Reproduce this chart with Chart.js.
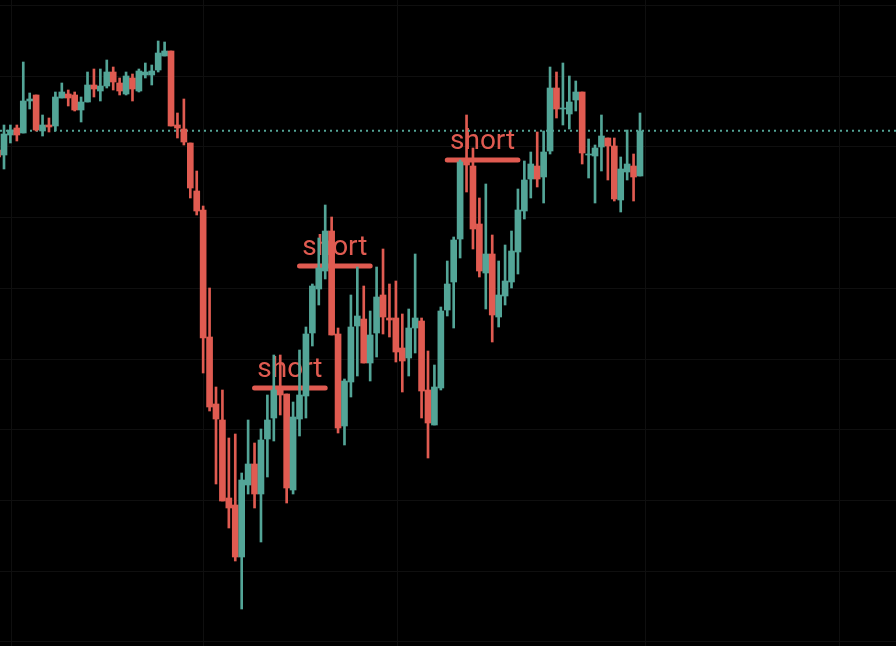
<!DOCTYPE html>
<html><head><meta charset="utf-8">
<style>html,body{margin:0;padding:0;background:#000;overflow:hidden}canvas{display:block}</style>
<script src="https://cdn.jsdelivr.net/npm/chart.js@4.4.1/dist/chart.umd.min.js"></script>
</head><body>
<canvas id="c" width="896" height="646"></canvas>
<script>
// ---- data (bar index -1 is the partially visible first candle) ----
const opens = [550,
 545,565,572,567,599,605,569,575,574,602, 606,605,590,598,615,609,614,628,617,606,
 622,609,625,625,630,644,649,575,571,557, 509,490,363,296,280,202,195,143,215,236,
 206,261,282,313,306,210,281,304,367,411, 429,469,366,274,318,374,381,337,367,405,
 382,382,352,342,372,379,310,275,312,390, 418,461,539,534,476,427,446,383,404,418,
 448,489,521,534,523,549,612,591,586,600, 608,545,544,553,562,554,500,528,534,524];
const highs = [553,
 575,575,575,638,607,605,585,582,608,617, 610,608,603,628,631,631,640,633,622,628,
 626,631,637,635,659,658,649,587,601,557, 529,494,412,313,310,262,266,227,280,257,
 271,305,345,345,306,298,350,373,416,462, 495,483,372,321,405,433,414,389,433,451,
 416,419,386,391,446,382,349,335,393,439, 463,540,585,552,502,516,465,439,455,469,
 511,539,548,568,569,633,628,637,624,619, 608,561,555,585,562,562,543,570,546,587];
const lows = [538,
 531,557,559,567,591,569,564,568,569,602, 594,589,578,598,603,599,612,610,605,605,
 599,608,622,615,628,644,574,562,555,502, 485,327,289,216,199,172,139,91,206,192,
 158,223,259,285,197,206,264,282,354,395, 421,365,267,255,303,324,337,319,343,366,
 363,338,308,324,347,282,242,275,310,384, 372,442,508,451,423,391,358,373,395,412,
 426,481,502,513,497,546,582,575,571,589, 536,522,497,529,520,499,488,520,499,524];
const closes = [543,
 566,570,565,599,601,570,575,573,603,608, 602,590,598,615,611,614,628,618,609,624,
 611,629,628,629,647,649,574,572,558,512, 489,362,293,281,199,192,143,220,236,206,
 260,280,310,305,212,283,305,366,414,432, 469,365,272,319,373,384,337,365,403,383,
 380,348,339,372,382,309,277,313,389,416, 460,538,535,471,429,446,385,405,419,449,
 490,520,536,521,548,612,591,592,598,608, 547,546,552,564,554,501,531,536,523,569];
const firstBarIndex = -1;

// reference level (dotted) and "short" annotations
const refLevel = 569.3;
const shortText = ['short', 'short', 'short'];
const shortStart = [39, 46, 69];
const shortEnd = [50, 57, 80];
const shortLevel = [312, 434, 540];

// grid tick values
const xGridTicks = [1.1, 31, 61.2, 99.9, 130];
const yGridTicks = [58.1, 128.8, 199.5, 270.2, 340.9, 411.6, 482.3, 553, 623.7, 694.4];

// ---- styles ----
const UP = '#53a597';
const DOWN = '#e05b51';
const GRID = '#0f0f0f';
const X_MIN = -0.6226, X_MAX = 138.85;
const Y_MIN = 54, Y_MAX = 700;

const isUp = i => closes[i] >= opens[i];
const colorsArr = opens.map((o, i) => isUp(i) ? UP : DOWN);

const bodyData = opens.map((o, i) => ({x: firstBarIndex + i, y: [o, closes[i]]}));
const wickData = opens.map((o, i) => ({x: firstBarIndex + i, y: [lows[i], highs[i]]}));

const datasets = [
  {type: 'bar', label: 'body', data: bodyData, backgroundColor: colorsArr, barThickness: 6,
   grouped: false, minBarLength: 1, order: 1, borderWidth: 0},
  {type: 'bar', label: 'wick', data: wickData, backgroundColor: colorsArr, barThickness: 2,
   grouped: false, order: 2, borderWidth: 0},
];
shortStart.forEach((s, k) => {
  datasets.push({type: 'line', label: shortText[k], data: [{x: s, y: shortLevel[k]}, {x: shortEnd[k], y: shortLevel[k]}],
    borderColor: DOWN, borderWidth: 5, borderCapStyle: 'round', pointRadius: 0, order: 3});
});
datasets.push({type: 'line', label: 'level', data: [{x: X_MIN, y: refLevel}, {x: X_MAX, y: refLevel}],
  borderColor: UP, borderWidth: 2, borderDash: [2, 4], pointRadius: 0, order: 4});

const shortLabels = {
  id: 'shortLabels',
  beforeDatasetsDraw(chart) {
    const {ctx, scales: {x, y}} = chart;
    ctx.save();
    ctx.fillStyle = DOWN;
    ctx.font = '400 28px Roboto';
    ctx.textAlign = 'center';
    ctx.textBaseline = 'alphabetic';
    shortStart.forEach((s, k) => {
      const cx = (x.getPixelForValue(s) + x.getPixelForValue(shortEnd[k])) / 2;
      const cy = y.getPixelForValue(shortLevel[k]) - 11.5;
      ctx.fillText(shortText[k], cx, cy);
    });
    ctx.restore();
  }
};
const bg = {
  id: 'bg',
  beforeDraw(chart) { const c = chart.ctx; c.save(); c.fillStyle = '#000'; c.fillRect(0, 0, chart.width, chart.height); c.restore(); }
};

new Chart(document.getElementById('c'), {
  type: 'bar',
  data: {datasets},
  options: {
    responsive: false, animation: false, devicePixelRatio: 1,
    layout: {padding: 0},
    plugins: {legend: {display: false}, tooltip: {enabled: false}},
    scales: {
      x: {type: 'linear', min: X_MIN, max: X_MAX, offset: false,
          grid: {color: GRID, drawTicks: false, offset: false}, border: {display: false},
          ticks: {display: false},
          afterBuildTicks: s => { s.ticks = xGridTicks.map(v => ({value: v})); }},
      y: {type: 'linear', min: Y_MIN, max: Y_MAX,
          grid: {color: GRID, drawTicks: false}, border: {display: false},
          ticks: {display: false},
          afterBuildTicks: s => { s.ticks = yGridTicks.map(v => ({value: v})); }}
    }
  },
  plugins: [bg, shortLabels]
});
</script>
</body></html>
